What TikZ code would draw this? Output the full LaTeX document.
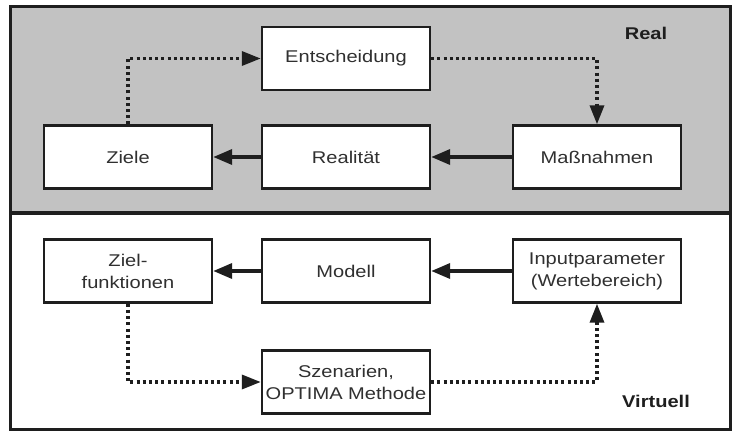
\documentclass[tikz,border=0pt]{standalone}
\usepackage{fontspec}
\setmainfont{Liberation Sans}[FakeStretch=1.18]
\usetikzlibrary{arrows.meta}
\definecolor{panelgray}{HTML}{C2C2C2}
\definecolor{ink}{HTML}{1E1E1E}
\definecolor{txt}{HTML}{303030}
\begin{document}
\begin{tikzpicture}[x=1pt,y=-1pt,
  box/.style={draw=ink, line width=2.4pt, fill=white, text=txt, align=center,
    minimum width=168pt, minimum height=63pt, inner sep=0pt,
    font=\fontsize{17}{22}\selectfont},
  flow/.style={draw=ink, line width=3.5pt, -{Triangle[length=19pt,width=15pt]}},
  dotflow/.style={draw=ink, line width=3.4pt, dash pattern=on 3pt off 3.2pt,
    -{Triangle[length=19pt,width=14pt]}},
  panellabel/.style={text=ink, font=\bfseries\fontsize{17}{20}\selectfont}]
  \useasboundingbox (0,0) rectangle (732,432);

  % panels and frame
  \fill[panelgray] (10,6) rectangle (730,213);
  \fill[white] (10,213) rectangle (730,429);
  \draw[ink, line width=3pt] (10,6) rectangle (730,429);
  \draw[ink, line width=3.5pt] (10,213) -- (730,213);

  % real level
  \node[box] (entsch) at (346,58.5) {Entscheidung};
  \node[box] (ziele) at (128,157) {Ziele};
  \node[box] (real) at (346,157) {Realität};
  \node[box] (mass) at (597,157) {Maßnahmen};
  \node[panellabel] (lreal) at (646,33) {Real};

  % virtual level
  \node[box] (zielf) at (128,271) {Ziel-\\funktionen};
  \node[box] (modell) at (346,271) {Modell};
  \node[box] (input) at (597,271) {Inputparameter\\(Wertebereich)};
  \node[box] (szen) at (346,382) {Szenarien,\\OPTIMA Methode};
  \node[panellabel] (lvirt) at (656,401) {Virtuell};

  % solid flows
  \draw[flow] (mass) -- (real);
  \draw[flow] (real) -- (ziele);
  \draw[flow] (input) -- (modell);
  \draw[flow] (modell) -- (zielf);

  % dotted flows
  \draw[dotflow] (ziele.north) |- (entsch.west);
  \draw[dotflow] (entsch.east) -| (mass.north);
  \draw[dotflow] (zielf.south) |- (szen.west);
  \draw[dotflow] (szen.east) -| (input.south);
\end{tikzpicture}
\end{document}
